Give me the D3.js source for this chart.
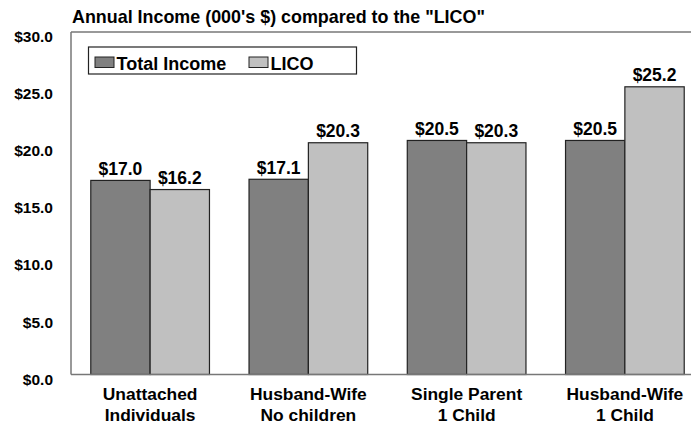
<!DOCTYPE html>
<html><head><meta charset="utf-8">
<script src="https://cdn.jsdelivr.net/npm/d3@7"></script>
<style>body{margin:0;background:#fff}svg{display:block}text{font-family:"Liberation Sans",Arial,sans-serif;font-weight:bold;fill:#000}</style>
</head><body><svg id="c" width="691" height="425"></svg>
<script>
(function(){
const categories = [["Unattached","Individuals"],["Husband-Wife","No children"],["Single Parent","1 Child"],["Husband-Wife","1 Child"]];
const seriesNames = ["Total Income","LICO"];
const totalIncome = [17.0, 17.1, 20.5, 20.5];
const lico = [16.2, 20.3, 20.3, 25.2];
const yTicks = [0,5,10,15,20,25,30];
const colors = ["#808080","#c0c0c0"];

const svg = d3.select("#c");
const mLeft = 71, mRight = 704, mTop = 32, mBottom = 374.5;
const x = d3.scaleBand().domain(d3.range(categories.length)).range([mLeft,mRight]).paddingInner(0.25).paddingOuter(0.125);
const xs = d3.scaleBand().domain([0,1]).range([0,x.bandwidth()]);
const y = d3.scaleLinear().domain([0,30]).range([mBottom,mTop]);

svg.append("line").attr("x1",mLeft).attr("x2",691).attr("y1",mTop).attr("y2",mTop).attr("stroke","#777").attr("stroke-width",1.5);
svg.append("line").attr("x1",mLeft).attr("x2",mLeft).attr("y1",mTop).attr("y2",mBottom).attr("stroke","#777").attr("stroke-width",1.5);

const yAxis = d3.axisLeft(y).tickValues(yTicks).tickSize(0).tickPadding(18).tickFormat(d=>"$"+d3.format(".1f")(d));
const ya = svg.append("g").attr("transform",`translate(${mLeft},0)`).call(yAxis);
ya.select(".domain").remove();
ya.selectAll("text").attr("font-size",15.5).attr("font-family","Liberation Sans, Arial, sans-serif").attr("font-weight","bold").attr("dy","0.62em").attr("fill","#000");

const data = categories.map((c,i)=>({i, vals:[totalIncome[i], lico[i]]}));
const g = svg.append("g");
data.forEach(d=>{
  d.vals.forEach((v,s)=>{
    const bx = x(d.i)+xs(s);
    g.append("rect").attr("x",bx).attr("y",y(v)).attr("width",xs.bandwidth()).attr("height",y(0)-y(v))
      .attr("fill",colors[s]).attr("stroke","#222").attr("stroke-width",1.2);
    g.append("text").attr("x",bx+xs.bandwidth()/2).attr("y",y(v)-5.5).attr("text-anchor","middle").attr("font-size",17.5).text("$"+d3.format(".1f")(v));
  });
});

svg.append("line").attr("x1",mLeft).attr("x2",691).attr("y1",mBottom).attr("y2",mBottom).attr("stroke","#777").attr("stroke-width",1.5);

const xAxis = d3.axisBottom(x).tickSize(0).tickFormat(()=>"");
const xa = svg.append("g").attr("transform",`translate(0,${mBottom})`).call(xAxis);
xa.select(".domain").remove();
xa.selectAll(".tick").each(function(d){
  const t = d3.select(this).append("text").attr("text-anchor","middle").attr("font-size",17.4).attr("fill","#000");
  categories[d].forEach((line,k)=>t.append("tspan").attr("x",0).attr("y",k===0?25.5:46.5).text(line));
});

svg.append("text").attr("x",72).attr("y",22.5).attr("font-size",17.9).text('Annual Income (000\'s $) compared to the "LICO"');

const lg = svg.append("g");
lg.append("rect").attr("x",88.5).attr("y",47).attr("width",268).attr("height",27).attr("fill","#fff").attr("stroke","#222").attr("stroke-width",1.2);
const legX = [95, 249];
seriesNames.forEach((n,s)=>{
  lg.append("rect").attr("x",legX[s]).attr("y",57).attr("width",19).attr("height",10.5).attr("fill",colors[s]).attr("stroke","#222").attr("stroke-width",1);
  lg.append("text").attr("x",legX[s]+21.5).attr("y",70).attr("font-size",18).text(n);
});
})();
</script></body></html>
